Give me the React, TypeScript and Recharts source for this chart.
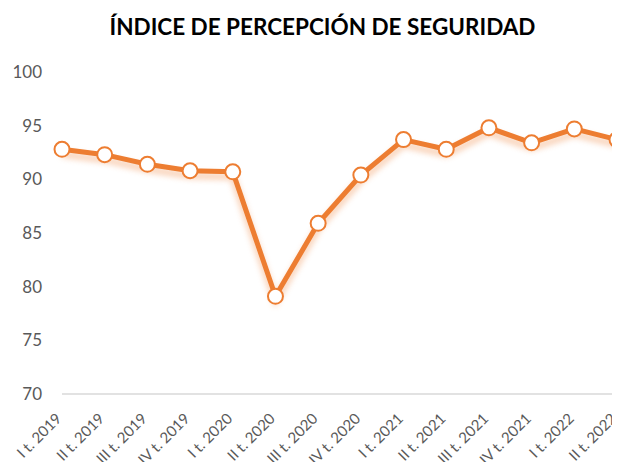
import React from 'react';
import { LineChart, Line, XAxis, YAxis } from 'recharts';

const quarters = [
  'I t. 2019', 'II t. 2019', 'III t. 2019', 'IV t. 2019',
  'I t. 2020', 'II t. 2020', 'III t. 2020', 'IV t. 2020',
  'I t. 2021', 'II t. 2021', 'III t. 2021', 'IV t. 2021',
  'I t. 2022', 'II t. 2022',
];

const indexValues = [
  92.8, 92.3, 91.4, 90.8, 90.7, 79.1, 85.9,
  90.4, 93.7, 92.8, 94.8, 93.4, 94.7, 93.7,
];

const yTicks = [70, 75, 80, 85, 90, 95, 100];

const ORANGE = '#ED7D31';
const FONT = 'Lato, "Open Sans", sans-serif';

const chartData = quarters.map((q, i) => ({ q, v: indexValues[i] }));

const App: React.FC = () => {
  return (
    <div style={{ position: 'relative', width: 620, height: 470, margin: -8, background: '#fff' }}>
      <style>{`.recharts-line-curve { filter: drop-shadow(0px 5px 3px rgba(237,125,49,0.45)); }`}</style>
      <div
        style={{
          position: 'absolute',
          top: 13,
          left: 0,
          width: 645,
          textAlign: 'center',
          fontFamily: FONT,
          fontWeight: 700,
          fontSize: 22.5,
          color: '#000',
        }}
      >
        ÍNDICE DE PERCEPCIÓN DE SEGURIDAD
      </div>
      <LineChart
        width={620}
        height={470}
        data={chartData}
        margin={{ top: 72, right: 3, bottom: 0, left: 0 }}
      >
        <XAxis
          dataKey="q"
          height={76}
          interval={0}
          tickLine={false}
          axisLine={{ stroke: '#D9D9D9', strokeWidth: 1.5 }}
          angle={-45}
          textAnchor="end"
          tick={{ fill: '#595959', fontSize: 15, fontFamily: FONT, dx: -7 }}
          tickMargin={12}
        />
        <YAxis
          domain={[70, 100]}
          ticks={yTicks}
          width={62}
          tickLine={false}
          axisLine={false}
          tickMargin={14}
          tick={{ fill: '#595959', fontSize: 17, fontFamily: FONT }}
        />
        <Line
          type="linear"
          dataKey="v"
          stroke={ORANGE}
          strokeWidth={5}
          dot={{ r: 7.5, fill: '#fff', stroke: ORANGE, strokeWidth: 2 }}
          isAnimationActive={false}
        />
      </LineChart>
    </div>
  );
};

export default App;
